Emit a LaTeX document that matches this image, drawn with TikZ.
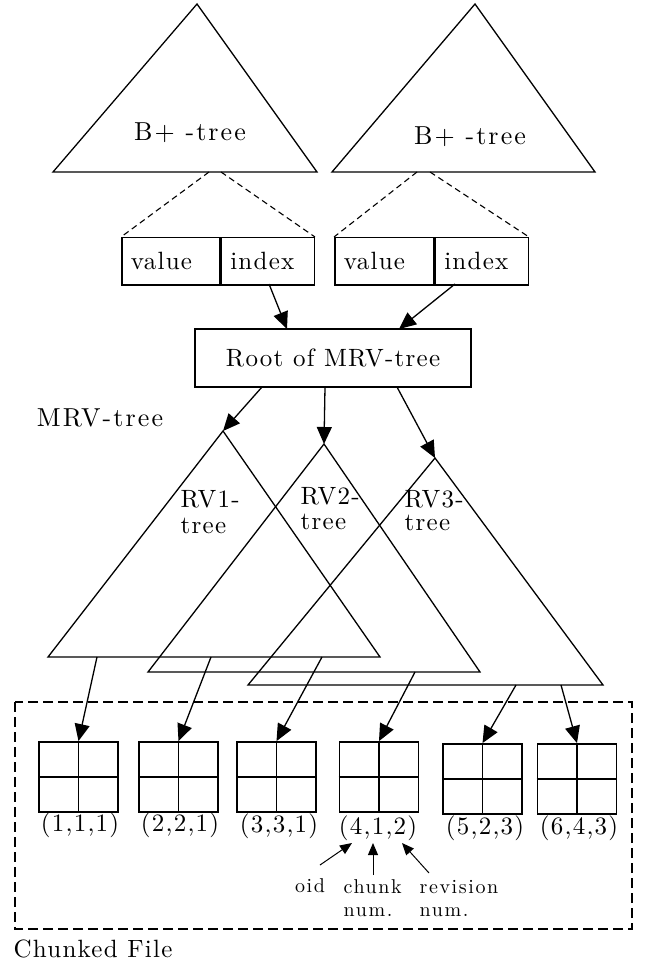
\documentclass[tikz,border=0pt]{standalone}
\usepackage{fontspec}
\usetikzlibrary{arrows.meta}
\newfontfamily\lmspaced{lmroman10-regular.otf}[LetterSpace=5]
\newfontfamily\lmwide{lmroman10-regular.otf}[LetterSpace=8]
\newfontfamily\lmsmall{lmroman10-regular.otf}[LetterSpace=8]
\tikzset{
  txt/.style={font=\lmspaced\fontsize{25}{26}\selectfont, inner sep=0pt},
  widetxt/.style={font=\lmwide\fontsize{26}{27}\selectfont, inner sep=0pt},
  smalltxt/.style={font=\lmsmall\fontsize{20}{22}\selectfont, inner sep=0pt},
  bigarrow/.style={-{Triangle[length=17pt,width=15pt]}, line width=1.3pt},
  smallarrow/.style={-{Triangle[length=12pt,width=10pt]}, line width=1pt},
  field/.style={draw, line width=1.5pt, anchor=north west, minimum height=47pt, inner xsep=9pt, inner ysep=0pt, align=left, font=\lmspaced\fontsize{25}{26}\selectfont},
  chunkbox/.style={draw, line width=1.8pt, minimum width=79pt, minimum height=70pt, inner sep=0pt},
  leafline/.style={line width=1.1pt, dash pattern=on 6pt off 4pt},
}
\begin{document}
\begin{tikzpicture}[x=1pt, y=-1pt, line width=1.3pt]
        \useasboundingbox (0,0) rectangle (647,968);
        % two B+-trees
        \coordinate (LA) at (197,4);
        \coordinate (LL) at (53,172);
        \coordinate (LR) at (317,172);
        \coordinate (RA) at (475,4);
        \coordinate (RL) at (332,172);
        \coordinate (RR) at (595,172);
        \draw (LA)--(LL)--(LR)--cycle;
        \draw (RA)--(RL)--(RR)--cycle;
        \node[widetxt] (lbtree) at (190,133) {B+ -tree};
        \node[widetxt] (rbtree) at (470,137) {B+ -tree};
        \coordinate (LB1) at (209,172);
        \coordinate (LB2) at (221,172);
        \coordinate (RB1) at (417,172);
        \coordinate (RB2) at (430,172);
        \node[field, text width=80pt] (lval) at (121,237) {value};
        \node[field, text width=75pt] (lidx) at (lval.north east) {index};
        \node[field, text width=81pt] (rval) at (334,237) {value};
        \node[field, text width=75pt] (ridx) at (rval.north east) {index};
        \draw[leafline] (LB1)--(lval.north west);
        \draw[leafline] (LB2)--(lidx.north east);
        \draw[leafline] (RB1)--(rval.north west);
        \draw[leafline] (RB2)--(ridx.north east);
        % root of the MRV-tree
        \node[draw, line width=1.5pt, minimum width=276pt, minimum height=58pt, font=\lmspaced\fontsize{25}{26}\selectfont] (root) at (333,358) {Root of MRV-tree};
        \coordinate (li) at (269,284);
        \coordinate (ri) at (455,284);
        \coordinate (rt1) at (287,329);
        \coordinate (rt2) at (399,329);
        \draw[bigarrow] (li)--(rt1);
        \draw[bigarrow] (ri)--(rt2);
        \node[widetxt] (mrv) at (100,418) {MRV-tree};
        % RV-trees
        \coordinate (A1) at (223,431);
        \coordinate (L1) at (48,657);
        \coordinate (R1) at (380,657);
        \coordinate (A2) at (324,444);
        \coordinate (L2) at (148,672);
        \coordinate (R2) at (480,672);
        \coordinate (A3) at (435,458);
        \coordinate (L3) at (248,685);
        \coordinate (R3) at (603,685);
        \draw (A1)--(L1)--(R1)--cycle;
        \draw (A2)--(L2)--(R2)--cycle;
        \draw (A3)--(L3)--(R3)--cycle;
        \node[txt, anchor=base west] (rv1a) at (180,507) {RV1-};
        \node[txt, anchor=base west] (rv1b) at (180,533) {tree};
        \node[txt, anchor=base west] (rv2a) at (300,504) {RV2-};
        \node[txt, anchor=base west] (rv2b) at (300,529) {tree};
        \node[txt, anchor=base west] (rv3a) at (404,507) {RV3-};
        \node[txt, anchor=base west] (rv3b) at (404,530) {tree};
        \coordinate (s1) at (262,387);
        \coordinate (s2) at (325,387);
        \coordinate (s3) at (397,387);
        \draw[bigarrow] (s1)--(A1);
        \draw[bigarrow] (s2)--(A2);
        \draw[bigarrow] (s3)--(A3);
        % chunked file
        \draw[line width=2.5pt, dash pattern=on 10pt off 5pt] (15,702) rectangle (632,929);
        \node[txt, anchor=west] (cfile) at (13,949) {Chunked File};
        \node[chunkbox] (c1) at (78.5,777) {};
        \node[chunkbox] (c2) at (178.5,777) {};
        \node[chunkbox] (c3) at (276.5,777) {};
        \node[chunkbox] (c4) at (379,777) {};
        \node[chunkbox] (c5) at (482.5,779) {};
        \node[chunkbox] (c6) at (577,779) {};
        \draw[line width=1.6pt] (c1.north)--(c1.south) (c1.west)--(c1.east);
        \draw[line width=1.6pt] (c2.north)--(c2.south) (c2.west)--(c2.east);
        \draw[line width=1.6pt] (c3.north)--(c3.south) (c3.west)--(c3.east);
        \draw[line width=1.6pt] (c4.north)--(c4.south) (c4.west)--(c4.east);
        \draw[line width=1.6pt] (c5.north)--(c5.south) (c5.west)--(c5.east);
        \draw[line width=1.6pt] (c6.north)--(c6.south) (c6.west)--(c6.east);
        \node[txt] (n1) at (80,825) {(1,1,1)};
        \node[txt] (n2) at (180,825) {(2,2,1)};
        \node[txt] (n3) at (279,826) {(3,3,1)};
        \node[txt] (n4) at (378,828) {(4,1,2)};
        \node[txt] (n5) at (485,828) {(5,2,3)};
        \node[txt] (n6) at (579,828) {(6,4,3)};
        \coordinate (t1) at (97,657);
        \coordinate (t2) at (211,657);
        \coordinate (t3) at (322,657);
        \coordinate (t4) at (415,672);
        \coordinate (t5) at (516,685);
        \coordinate (t6) at (561,685);
        \draw[bigarrow] (t1)--(c1.north);
        \draw[bigarrow] (t2)--(c2.north);
        \draw[bigarrow] (t3)--(c3.north);
        \draw[bigarrow] (t4)--(c4.north);
        \draw[bigarrow] (t5)--(c5.north);
        \draw[bigarrow] (t6)--(c6.north);
        % parts of a chunk key
        \node[smalltxt, anchor=base] (oid) at (310,892) {oid};
        \node[smalltxt, anchor=base west] (chunk) at (343,893) {chunk};
        \node[smalltxt, anchor=base west] (chunknum) at (343,916) {num.};
        \node[smalltxt, anchor=base west] (rev) at (419,893) {revision};
        \node[smalltxt, anchor=base west] (revnum) at (419,916) {num.};
        \coordinate (k1) at (352,843);
        \coordinate (k2) at (373,843);
        \coordinate (k3) at (402,843);
        \coordinate (o1) at (320,865);
        \coordinate (o2) at (373,875);
        \coordinate (o3) at (429,873);
        \draw[smallarrow] (o1)--(k1);
        \draw[smallarrow] (o2)--(k2);
        \draw[smallarrow] (o3)--(k3);
    \end{tikzpicture}
\end{document}
